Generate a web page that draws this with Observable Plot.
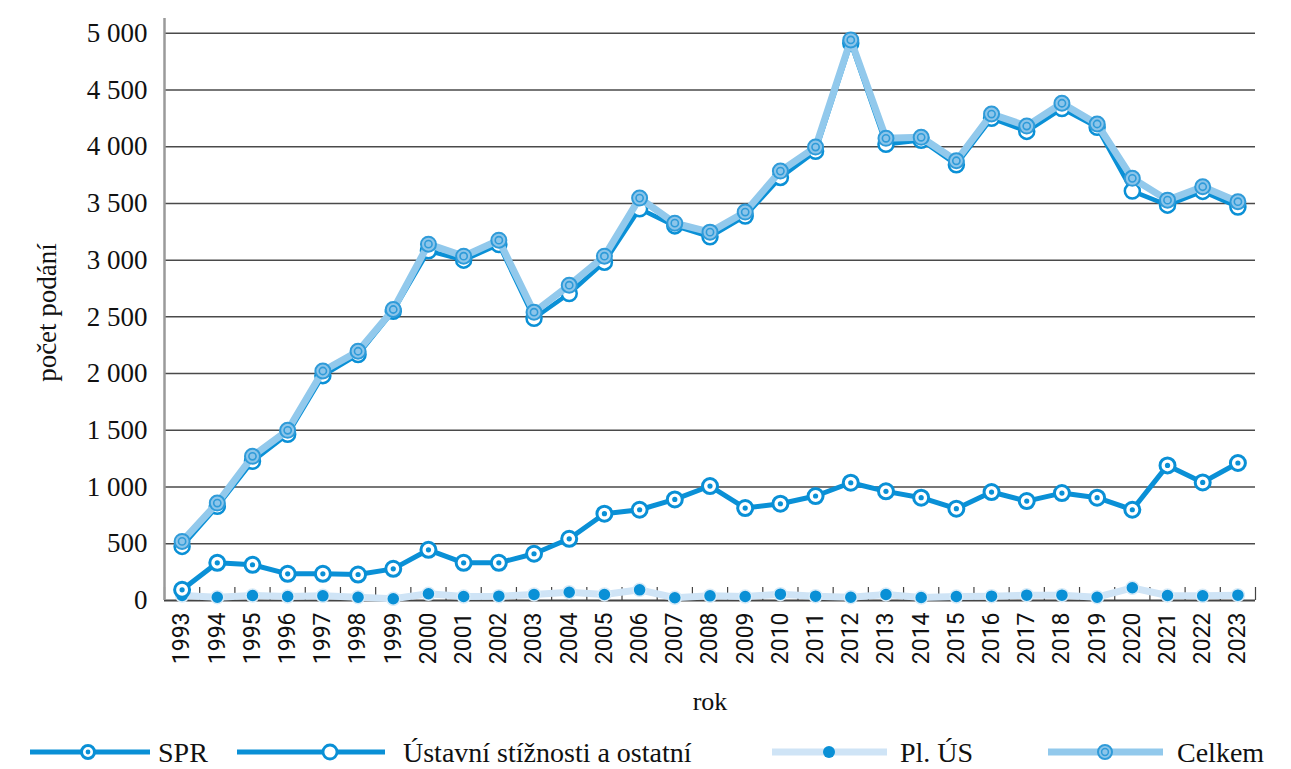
<!DOCTYPE html>
<html><head><meta charset="utf-8">
<script src="https://cdn.jsdelivr.net/npm/d3@7"></script>
<script src="https://cdn.jsdelivr.net/npm/@observablehq/plot@0.6"></script>
<style>
body{margin:0;background:#fff;}
#chart svg{display:block}
#legend{display:block}
</style>
</head><body>
<div id="chart"></div>
<svg id="legend" width="1291" height="44"></svg>
<script>
const years = [1993,1994,1995,1996,1997,1998,1999,2000,2001,2002,2003,2004,2005,2006,2007,2008,2009,2010,2011,2012,2013,2014,2015,2016,2017,2018,2019,2020,2021,2022,2023];
const spr = [94,332,315,235,235,229,279,447,332,332,412,544,765,800,891,1009,815,853,921,1038,962,906,809,956,876,947,906,800,1191,1041,1212];
const ustavni = [477,830,1227,1465,1982,2168,2550,3082,3000,3138,2488,2706,2982,3453,3302,3206,3389,3729,3959,4912,4021,4057,3841,4250,4135,4336,4171,3609,3485,3606,3468];
const plUs = [44,29,44,35,41,29,15,59,35,38,53,73,53,94,24,41,35,56,38,29,53,26,35,38,47,47,29,112,44,41,47];
const celkem = [521,859,1271,1500,2023,2197,2565,3141,3035,3176,2541,2779,3035,3547,3326,3247,3424,3785,3997,4941,4074,4083,3876,4288,4182,4383,4200,3721,3529,3647,3515];
const yTicks = [0,500,1000,1500,2000,2500,3000,3500,4000,4500,5000];
const seriesNames = ["SPR","Ústavní stížnosti a ostatní","Pl. ÚS","Celkem"];

const BLUE = "#0a90d6", LIGHT = "#92c9ec", PALE = "#cfe4f6", RING = "#2f9bd9";
const toRows = vals => years.map((year, i) => ({year, value: vals[i]}));
const rSpr = toRows(spr), rUs = toRows(ustavni), rPl = toRows(plUs), rCel = toRows(celkem);
const bounds = [years[0] - 0.5, ...years.map(y => y + 0.5)];
const fmt = d => d3.format(",")(d).replace(/,/g, " ");
const SERIF = "'Liberation Serif', serif";

const chart = Plot.plot({
  width: 1291, height: 725,
  marginLeft: 164, marginRight: 36, marginTop: 18, marginBottom: 125,
  x: {type: "linear", domain: [years[0] - 0.5, years[years.length - 1] + 0.5], label: null},
  y: {domain: [0, 5130], label: null},
  style: {background: "#fff"},
  marks: [
    Plot.ruleY(yTicks.slice(1), {stroke: "#4a4a4a", strokeWidth: 1.5}),
    Plot.ruleY([0], {stroke: "#444", strokeWidth: 2}),
    Plot.axisX(bounds, {tickSize: -13, tickFormat: () => "", stroke: "#444", strokeWidth: 1.2, label: null}),
    Plot.ruleX([years[0] - 0.5], {stroke: "#9a9a9a", strokeWidth: 2.5}),
    Plot.axisY(yTicks, {tickSize: 0, tickPadding: 17, tickFormat: fmt, fontSize: 27, fontFamily: SERIF, fill: "#111", label: null}),
    Plot.axisX(years, {tickSize: 0, tickRotate: -90, tickPadding: 12, tickFormat: d => String(d), fontSize: 23, fontFamily: "Roboto, sans-serif", fill: "#111", label: null}),
    Plot.text(["rok"], {frameAnchor: "bottom", dy: 109, fontSize: 26, fontFamily: SERIF, fill: "#111"}),
    Plot.text(["počet podání"], {frameAnchor: "left", textAnchor: "middle", rotate: -90, dx: -117, dy: 3, fontSize: 27, fontFamily: SERIF, fill: "#111"}),
    // Pl. ÚS
    Plot.line(rPl, {x: "year", y: "value", stroke: PALE, strokeWidth: 7}),
    Plot.dot(rPl, {x: "year", y: "value", r: 6.5, fill: BLUE, stroke: "#d8ebf8", strokeWidth: 1.5}),
    // SPR
    Plot.line(rSpr, {x: "year", y: "value", stroke: BLUE, strokeWidth: 5}),
    Plot.dot(rSpr, {x: "year", y: "value", r: 7.5, fill: "#fff", stroke: BLUE, strokeWidth: 3}),
    Plot.dot(rSpr, {x: "year", y: "value", r: 2.6, fill: BLUE}),
    // Ústavní stížnosti
    Plot.line(rUs, {x: "year", y: "value", stroke: BLUE, strokeWidth: 4.5}),
    Plot.dot(rUs, {x: "year", y: "value", r: 7.5, fill: "#fff", stroke: BLUE, strokeWidth: 2.5}),
    // Celkem
    Plot.line(rCel, {x: "year", y: "value", stroke: LIGHT, strokeWidth: 7}),
    Plot.dot(rCel, {x: "year", y: "value", r: 7.5, fill: "#8cc5ea", stroke: RING, strokeWidth: 2}),
    Plot.dot(rCel, {x: "year", y: "value", r: 3.6, fill: "none", stroke: RING, strokeWidth: 1.6})
  ]
});
document.getElementById("chart").appendChild(chart);

// legend
const lg = d3.select("#legend");
const cy = 27;
const items = [
  {name: seriesNames[0], x1: 30, x2: 150, mx: 88, tx: 158, kind: "spr"},
  {name: seriesNames[1], x1: 237, x2: 385, mx: 330, tx: 403, kind: "us"},
  {name: seriesNames[2], x1: 772, x2: 887, mx: 829, tx: 900, kind: "pl"},
  {name: seriesNames[3], x1: 1048, x2: 1163, mx: 1105, tx: 1177, kind: "cel"}
];
for (const it of items) {
  const g = lg.append("g");
  const sw = it.kind === "pl" || it.kind === "cel" ? 7 : 5;
  const sc = it.kind === "pl" ? PALE : it.kind === "cel" ? LIGHT : BLUE;
  g.append("line").attr("x1", it.x1).attr("x2", it.x2).attr("y1", cy).attr("y2", cy).attr("stroke", sc).attr("stroke-width", sw);
  if (it.kind === "spr") {
    g.append("circle").attr("cx", it.mx).attr("cy", cy).attr("r", 6.5).attr("fill", "#fff").attr("stroke", BLUE).attr("stroke-width", 3);
    g.append("circle").attr("cx", it.mx).attr("cy", cy).attr("r", 2.4).attr("fill", BLUE);
  } else if (it.kind === "us") {
    g.append("circle").attr("cx", it.mx).attr("cy", cy).attr("r", 7).attr("fill", "#fff").attr("stroke", BLUE).attr("stroke-width", 2.8);
  } else if (it.kind === "pl") {
    g.append("circle").attr("cx", it.mx).attr("cy", cy).attr("r", 6).attr("fill", BLUE);
  } else {
    g.append("circle").attr("cx", it.mx).attr("cy", cy).attr("r", 7).attr("fill", "#8cc5ea").attr("stroke", RING).attr("stroke-width", 2);
    g.append("circle").attr("cx", it.mx).attr("cy", cy).attr("r", 3.4).attr("fill", "none").attr("stroke", RING).attr("stroke-width", 1.5);
  }
  g.append("text").attr("x", it.tx).attr("y", cy).attr("dy", "0.36em").attr("font-family", SERIF).attr("font-size", 28).attr("fill", "#111").text(it.name);
}
</script>
</body></html>
